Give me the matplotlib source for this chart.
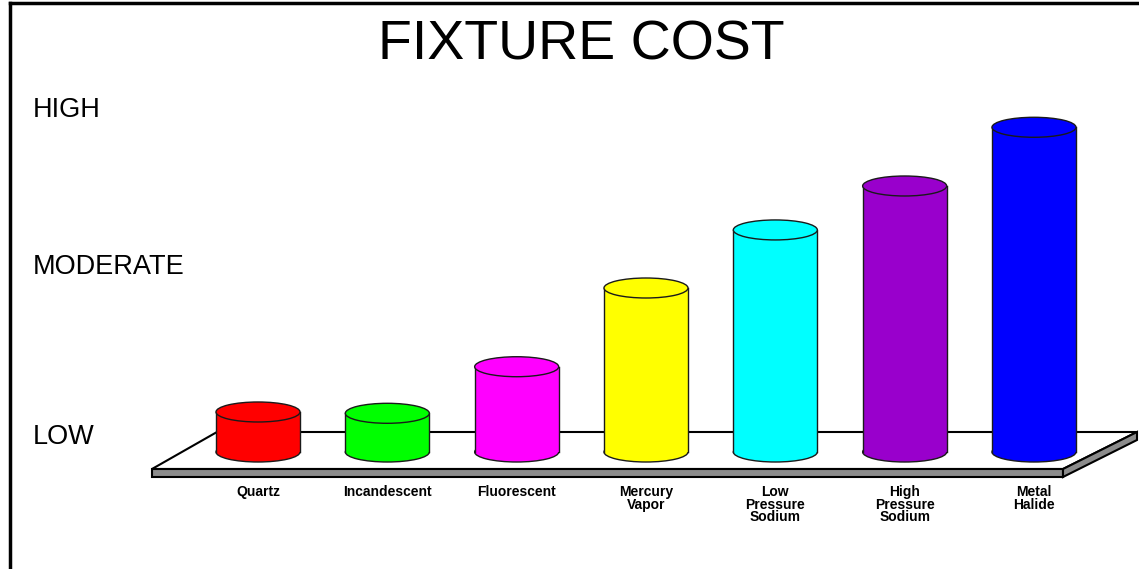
import matplotlib
matplotlib.use("Agg")
import matplotlib.pyplot as plt
from matplotlib.patches import Ellipse, Rectangle, Polygon
from matplotlib.lines import Line2D

plt.rcParams['font.family'] = ['Liberation Sans', 'DejaVu Sans']

# data
fixtures = ["Quartz", "Incandescent", "Fluorescent", "Mercury\nVapor",
            "Low\nPressure\nSodium", "High\nPressure\nSodium", "Metal\nHalide"]
cost = [1.22, 1.18, 2.6, 5.0, 6.77, 8.11, 9.9]
colors = ["#ff0000", "#00ff00", "#ff00ff", "#ffff00", "#00ffff", "#9900cc", "#0000ff"]
level_labels = ["LOW", "MODERATE", "HIGH"]
level_pos = [0.24, 5.43, 10.21]

W, H = 1139, 569
fig = plt.figure(figsize=(W / 100, H / 100), dpi=100)
ax = fig.add_axes([0, 0, 1, 1])

# pixel layout of the original: first bar centre at x=258px, spacing ~129px,
# base line at y=452px, ~32.8px per cost unit
px_x = 129.33
px_y = 32.8
ax.set_xlim(-258 / px_x, (W - 258) / px_x)
ax.set_ylim(-(H - 452) / px_y, 452 / px_y)
ax.axis('off')

# platform
front = -17 / px_y
back = 20 / px_y
thick = 8 / px_y
fl, fr = -106 / px_x, 805 / px_x
bl, br = -41 / px_x, 879 / px_x
grey = "#8c8c8c"
ax.add_patch(Polygon([(fl, front), (fr, front), (br, back), (bl, back)],
                     closed=True, fc="white", ec="black", lw=1.5, zorder=1))
ax.add_patch(Polygon([(fl, front), (fr, front), (fr, front - thick), (fl, front - thick)],
                     closed=True, fc=grey, ec="black", lw=1.5, zorder=2))
ax.add_patch(Polygon([(fr, front), (br, back), (br, back - thick), (fr, front - thick)],
                     closed=True, fc=grey, ec="black", lw=1.5, zorder=2))

# cylinders
w = 84 / px_x
eh = 20 / px_y
edge = "#1a1a1a"
for i, (h, c) in enumerate(zip(cost, colors)):
    ax.add_patch(Ellipse((i, 0), w, eh, fc=c, ec=edge, lw=1, zorder=3))
    ax.add_patch(Rectangle((i - w / 2, 0), w, h, fc=c, ec="none", zorder=4))
    ax.plot([i - w / 2, i - w / 2], [0, h], color=edge, lw=1, zorder=5)
    ax.plot([i + w / 2, i + w / 2], [0, h], color=edge, lw=1, zorder=5)
    ax.add_patch(Ellipse((i, h), w, eh, fc=c, ec=edge, lw=1, zorder=6))
    ax.text(i, -33 / px_y, fixtures[i], ha="center", va="top", multialignment="center",
            fontsize=10, fontweight="bold", linespacing=0.88, zorder=7)

for lab, y in zip(level_labels, level_pos):
    ax.text(-225 / px_x, y, lab, ha="left", va="baseline", fontsize=19.5)

fig.text(581 / W, 1 - 60 / H, "FIXTURE COST", ha="center", va="baseline", fontsize=40)

# frame lines on top and left
fig.add_artist(Line2D([10 / W, 1], [1 - 3 / H, 1 - 3 / H], color="black", lw=2.5))
fig.add_artist(Line2D([10 / W, 10 / W], [0, 1 - 3 / H], color="black", lw=2.5))

fig.savefig("out.png", dpi=100, facecolor="white")
